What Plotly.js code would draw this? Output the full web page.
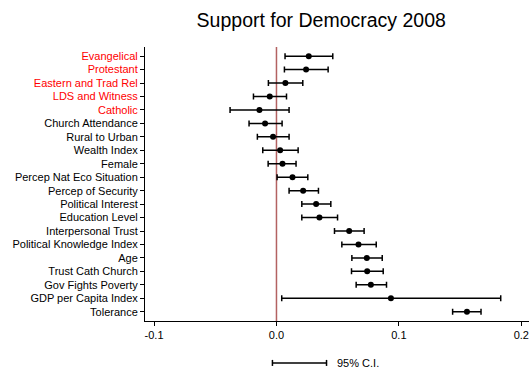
<!DOCTYPE html>
<html>
<head>
<meta charset="utf-8">
<script src="https://cdn.plot.ly/plotly-3.0.1.min.js"></script>
<style>html,body{margin:0;padding:0;background:#fff;}#chart{width:531px;height:370px;}</style>
</head>
<body>
<div id="chart"></div>
<script>
const categories = ["Evangelical","Protestant","Eastern and Trad Rel","LDS and Witness","Catholic",
  "Church Attendance","Rural to Urban","Wealth Index","Female","Percep Nat Eco Situation",
  "Percep of Security","Political Interest","Education Level","Interpersonal Trust",
  "Political Knowledge Index","Age","Trust Cath Church","Gov Fights Poverty",
  "GDP per Capita Index","Tolerance"];
const estimates = [0.0264,0.0242,0.0073,-0.0055,-0.0139,-0.0093,-0.0028,0.0030,0.0049,0.0131,
  0.0218,0.0324,0.0351,0.0594,0.0670,0.0738,0.0741,0.0771,0.0935,0.1556];
const lower = [0.0070,0.0065,-0.0066,-0.0188,-0.0379,-0.0224,-0.0156,-0.0112,-0.0068,0.0005,
  0.0103,0.0207,0.0207,0.0474,0.0534,0.0616,0.0613,0.0651,0.0043,0.1439];
const upper = [0.0460,0.0422,0.0215,0.0082,0.0103,0.0046,0.0103,0.0177,0.0160,0.0256,
  0.0343,0.0444,0.0499,0.0716,0.0815,0.0864,0.0872,0.0899,0.1832,0.1671];
const religionGroups = ["Evangelical","Protestant","Eastern and Trad Rel","LDS and Witness","Catholic"];
const xTickVals = [-0.1,0.0,0.1,0.2];
const xTickText = ["-0.1","0.0","0.1","0.2"];
const legendText = "95% C.I.";

const tickText = categories.map(c => religionGroups.includes(c) ? '<span style="color:#ff0000">'+c+'</span>' : c);

const trace = {
  type: 'scatter', mode: 'markers',
  x: estimates, y: categories,
  marker: {color: '#000', size: 6},
  error_x: {type: 'data', symmetric: false,
    array: upper.map((u,i)=>u-estimates[i]),
    arrayminus: estimates.map((e,i)=>e-lower[i]),
    color: '#000', thickness: 1.5, width: 3},
  hoverinfo: 'skip', showlegend: false
};

const layout = {
  width: 531, height: 370,
  margin: {l: 145, r: 2, t: 47, b: 49},
  paper_bgcolor: '#fff', plot_bgcolor: '#fff',
  font: {family: 'Arial, "Liberation Sans", sans-serif', color: '#000', size: 11},
  title: {text: 'Support for Democracy 2008', x: 0.605, xanchor: 'center', y: 0.945, yanchor: 'middle',
    font: {size: 19.5, color: '#000', family: 'Arial, "Liberation Sans", sans-serif'}},
  xaxis: {range: [-0.1074, 0.2063], showgrid: false, zeroline: false, showline: true,
    linecolor: '#000', linewidth: 1, ticks: 'outside', ticklen: 4, tickcolor: '#000',
    tickvals: xTickVals, ticktext: xTickText, tickfont: {size: 11}},
  yaxis: {type: 'category', categoryorder: 'array', categoryarray: categories,
    range: [19.69, -0.68], showgrid: false, zeroline: false, showline: true,
    linecolor: '#000', linewidth: 1, ticks: 'outside', ticklen: 4, tickcolor: '#000',
    tickvals: categories, ticktext: tickText, tickfont: {size: 11}},
  shapes: [
    {type: 'line', xref: 'x', yref: 'paper', x0: 0, x1: 0, y0: 0, y1: 1,
     line: {color: '#b36262', width: 1.5}, layer: 'below'},
    {type: 'line', xref: 'x', yref: 'paper', x0: -0.0033, x1: 0.0409, y0: -0.153, y1: -0.153,
     line: {color: '#000', width: 1.5}},
    {type: 'line', xref: 'x', yref: 'paper', x0: -0.0033, x1: -0.0033, y0: -0.142, y1: -0.164,
     line: {color: '#000', width: 1.5}},
    {type: 'line', xref: 'x', yref: 'paper', x0: 0.0409, x1: 0.0409, y0: -0.142, y1: -0.164,
     line: {color: '#000', width: 1.5}}
  ],
  annotations: [
    {text: legendText, xref: 'x', yref: 'paper', x: 0.0476, y: -0.153, xanchor: 'left', yanchor: 'middle',
     showarrow: false, font: {size: 11, color: '#000'}}
  ]
};

Plotly.newPlot('chart', [trace], layout, {displayModeBar: false, staticPlot: true});
</script>
</body>
</html>
